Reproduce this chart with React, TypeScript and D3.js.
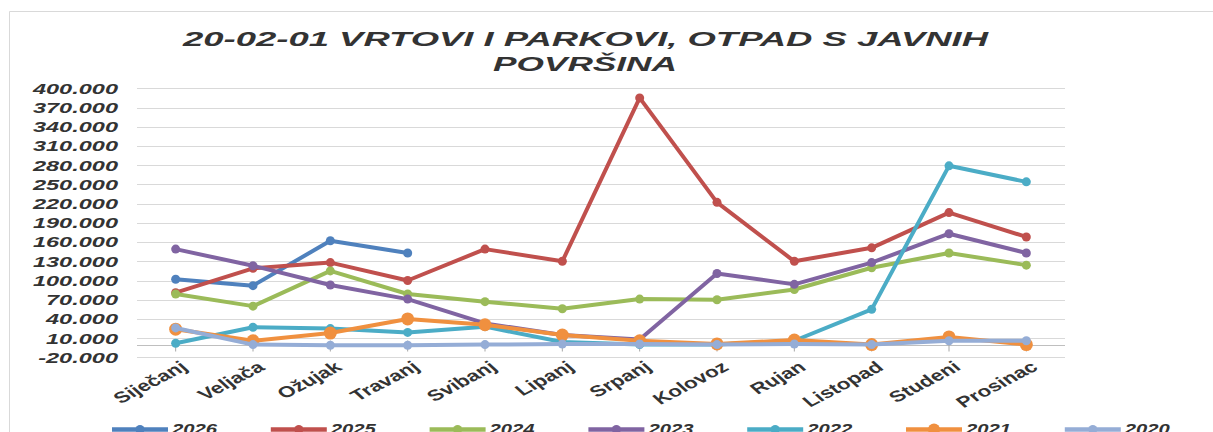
import * as d3 from "d3";
import { useEffect, useRef } from "react";

const months = ["Siječanj", "Veljača", "Ožujak", "Travanj", "Svibanj", "Lipanj", "Srpanj", "Kolovoz", "Rujan", "Listopad", "Studeni", "Prosinac"]

const years = ["2026", "2025", "2024", "2023", "2022", "2021", "2020"]
const colors = ["#4F81BD", "#C0504D", "#9BBB59", "#8064A2", "#4BACC6", "#F0903F", "#95ADD6"]

const v2026 = [102000, 92000, 162000, 143000, null, null, null, null, null, null, null, null]
const v2025 = [81000, 119000, 128000, 100000, 149000, 130000, 385000, 222000, 130000, 151000, 206000, 168000]
const v2024 = [79000, 60000, 115000, 79000, 67000, 56000, 71000, 70000, 86000, 120000, 143000, 124000]
const v2023 = [149000, 123000, 93000, 71000, 33000, 15000, 8000, 111000, 94000, 128000, 173000, 143000]
const v2022 = [2000, 27000, 25000, 19000, 28000, 4000, 0, 0, 6000, 55000, 279000, 254000]
const v2021 = [24000, 6000, 18000, 40000, 31000, 15000, 6000, 1000, 7000, 0, 12000, 0]
const v2020 = [26000, 0, -1000, -1000, 0, 1000, 1000, 0, 1000, 0, 6000, 6000]

const yTicks = [-20000, 10000, 40000, 70000, 100000, 130000, 160000, 190000, 220000, 250000, 280000, 310000, 340000, 370000, 400000]

const titleLines = ["20-02-01 VRTOVI I PARKOVI,  OTPAD S JAVNIH", "POVRŠINA"]

export default function App() {
    const svgRef = useRef(null)

    const svgWidth = 1213
    const svgHeight = 432

    useEffect(() => {
        const svg = d3.select(svgRef.current)
        svg.selectAll("*").remove()

        const series = [v2026, v2025, v2024, v2023, v2022, v2021, v2020]
        const fmt = d3.formatLocale({ decimal: ",", thousands: ".", grouping: [3], currency: ["", "€"], minus: "-" }).format(",d")
        const font = "Liberation Sans, Arial, sans-serif"

        const x = d3.scaleBand().domain(months).range([137, 1065])
        const cx = (m) => x(m) + x.bandwidth() / 2
        const y = d3.scaleLinear().domain([-20000, 400000]).range([357.4, 88.3])

        // frame
        svg.append("path").attr("d", `M9.5 ${svgHeight} V11.5 H${svgWidth}`)
            .attr("fill", "none").attr("stroke", "#D9D9D9")

        // grid
        svg.append("g").selectAll("line").data(yTicks).join("line")
            .attr("x1", 137).attr("x2", 1065)
            .attr("y1", d => Math.round(y(d)) + 0.5).attr("y2", d => Math.round(y(d)) + 0.5)
            .attr("stroke", "#D9D9D9")

        // category axis at zero
        const y0 = Math.round(y(0)) + 0.5
        svg.append("line").attr("x1", 137).attr("x2", 1065).attr("y1", y0).attr("y2", y0)
            .attr("stroke", "#BFBFBF")
        svg.append("g").selectAll("line").data(months).join("line")
            .attr("x1", d => cx(d)).attr("x2", d => cx(d))
            .attr("y1", y0 - 5).attr("y2", y0 + 6)
            .attr("stroke", "#A6A6A6")

        // y labels
        svg.append("g").selectAll("text").data(yTicks).join("text")
            .attr("transform", d => `translate(118,${y(d)}) scale(1.57,1)`)
            .attr("dy", "0.36em")
            .attr("text-anchor", "end")
            .attr("font-family", font)
            .attr("font-weight", "bold").attr("font-style", "italic")
            .attr("font-size", 15).attr("fill", "#333")
            .text(d => fmt(d))

        // x labels
        svg.append("g").selectAll("text").data(months).join("text")
            .attr("transform", d => `translate(${cx(d) + 13},369) scale(1.45,1) rotate(-37)`)
            .attr("text-anchor", "end")
            .attr("font-family", font)
            .attr("font-weight", "bold")
            .attr("font-size", 15.5).attr("fill", "#333")
            .text(d => d)

        // lines
        const line = d3.line().defined(d => d != null)
            .x((d, i) => cx(months[i])).y(d => y(d))

        series.forEach((s, k) => {
            const g = svg.append("g")
            g.append("path").attr("d", line(s))
                .attr("fill", "none").attr("stroke", colors[k])
                .attr("stroke-width", 4).attr("stroke-linejoin", "round").attr("stroke-linecap", "round")
            g.selectAll("circle").data(s.map((v, i) => [v, i]).filter(d => d[0] != null)).join("circle")
                .attr("cx", d => cx(months[d[1]])).attr("cy", d => y(d[0]))
                .attr("r", years[k] === "2021" ? 6.5 : 4.5)
                .attr("fill", colors[k])
        })

        // title
        const tx = [183, 493]
        const tl = [805, 184]
        const ty = [46, 71]
        titleLines.forEach((t, i) => {
            svg.append("text").attr("x", tx[i]).attr("y", ty[i])
                .attr("textLength", tl[i]).attr("lengthAdjust", "spacingAndGlyphs")
                .attr("font-family", font)
                .attr("font-weight", "bold").attr("font-style", "italic")
                .attr("font-size", 21).attr("fill", "#333")
                .text(t)
        })

        // legend
        const lg = svg.append("g").selectAll("g").data(years).join("g")
            .attr("transform", (d, i) => `translate(${112 + i * 158.8},0)`)
        lg.append("line").attr("x1", 0).attr("x2", 56).attr("y1", 429.5).attr("y2", 429.5)
            .attr("stroke", (d, i) => colors[i]).attr("stroke-width", 4.5)
        lg.append("circle").attr("cx", 28).attr("cy", 429.5).attr("r", (d) => d === "2021" ? 6 : 4.5)
            .attr("fill", (d, i) => colors[i])
        lg.append("text")
            .attr("transform", `translate(60,434) scale(1.35,1)`)
            .attr("font-family", font)
            .attr("font-weight", "bold").attr("font-style", "italic")
            .attr("font-size", 15).attr("fill", "#333")
            .text(d => d)
    }, [])

    return <svg ref={svgRef} width={svgWidth} height={svgHeight} style={{ position: "absolute", left: 0, top: 0 }} xmlns="http://www.w3.org/2000/svg" />
}
